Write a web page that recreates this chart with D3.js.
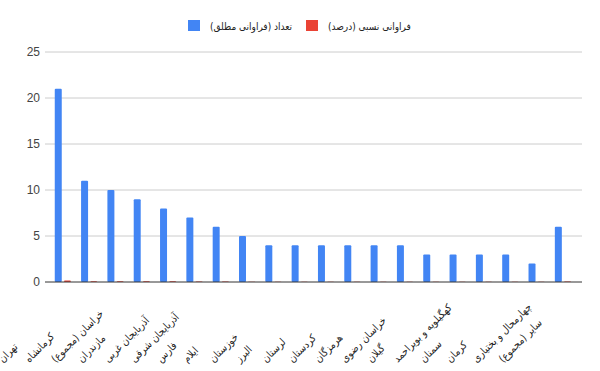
<!DOCTYPE html>
<html>
  <head>
    <meta charset="utf-8" />
    <script src="https://d3js.org/d3.v7.min.js"></script>
    <style>
      body { margin: 0; background: #fff; }
      text { font-family: Arial, "Liberation Sans", sans-serif; }
      text.fa { font-family: "DejaVu Sans Condensed", "DejaVu Sans", sans-serif; }
    </style>
  </head>
  <body>
    <div id="chart"></div>
    <script>
      // data
      const provinces = [
        "تهران", "کرمانشاه", "خراسان (مجموع)", "مازندران", "آذربایجان غربی",
        "آذربایجان شرقی", "فارس", "ایلام", "خوزستان", "البرز",
        "لرستان", "کردستان", "هرمزگان", "خراسان رضوی", "گیلان",
        "کهگیلویه و بویراحمد", "سمنان", "کرمان", "چهارمحال و بختیاری", "سایر (مجموع)"
      ];
      const countValues = [21, 11, 10, 9, 8, 7, 6, 5, 4, 4, 4, 4, 4, 4, 3, 3, 3, 3, 2, 6];
      const shareValues = [0.17, 0.09, 0.08, 0.07, 0.07, 0.06, 0.05, 0.04, 0.03, 0.03,
                           0.03, 0.03, 0.03, 0.03, 0.02, 0.02, 0.02, 0.02, 0.02, 0.05];
      const seriesNames = ["تعداد (فراوانی مطلق)", "فراوانی نسبی (درصد)"];
      const seriesColors = ["#4285f4", "#ea4335"];
      const yTicks = [0, 5, 10, 15, 20, 25];

      const width = 600, height = 371;
      const svg = d3.select("#chart").append("svg")
        .attr("width", width).attr("height", height);

      const y = d3.scaleLinear().domain([0, 25]).range([282, 52]);
      const x = d3.scaleBand().domain(provinces).range([49.7, 576.1]);
      const xs = d3.scaleBand().domain(seriesNames)
        .range([x.bandwidth() / 2 - 8.1, x.bandwidth() / 2 + 8.1])
        .paddingInner(0.24);

      // grid lines
      svg.append("g").selectAll("line")
        .data(yTicks.slice(1))
        .join("line")
        .attr("x1", 45).attr("x2", 582)
        .attr("y1", d => y(d)).attr("y2", d => y(d))
        .attr("stroke", "#cccccc");

      // y labels
      svg.append("g").selectAll("text")
        .data(yTicks)
        .join("text")
        .attr("x", 40).attr("y", d => y(d))
        .attr("dy", "0.35em")
        .attr("text-anchor", "end")
        .attr("font-size", 12)
        .attr("fill", "#444")
        .text(d => d);

      // bars
      const rows = provinces.map((p, i) => ({ p, vals: [countValues[i], shareValues[i]] }));
      const groups = svg.append("g").selectAll("g")
        .data(rows)
        .join("g")
        .attr("transform", d => `translate(${x(d.p)},0)`);
      groups.selectAll("rect")
        .data(d => d.vals.map((v, k) => ({ v, k })))
        .join("rect")
        .attr("x", d => xs(seriesNames[d.k]))
        .attr("width", xs.bandwidth())
        .attr("y", d => y(d.v))
        .attr("height", d => y(0) - y(d.v))
        .attr("rx", 1)
        .attr("fill", d => seriesColors[d.k]);

      // baseline
      svg.append("line")
        .attr("x1", 45).attr("x2", 582)
        .attr("y1", y(0)).attr("y2", y(0))
        .attr("stroke", "#333");

      // slanted category labels
      svg.append("g").selectAll("text")
        .data(provinces)
        .join("text")
        .attr("class", "fa")
        .attr("transform", d => {
          const cx = x(d) + x.bandwidth() / 2 - 60;
          return `translate(${cx},${y(0) + 81}) rotate(-45)`;
        })
        .attr("text-anchor", "start")
        .attr("font-size", 10.5)
        .attr("fill", "#222")
        .text(d => d);

      // legend
      const legendX = [188, 306];
      const legend = svg.append("g").selectAll("g")
        .data(seriesNames)
        .join("g")
        .attr("transform", (d, i) => `translate(${legendX[i]},20)`);
      legend.append("rect")
        .attr("width", 12).attr("height", 11)
        .attr("fill", (d, i) => seriesColors[i]);
      legend.append("text")
        .attr("class", "fa")
        .attr("x", 22).attr("y", 6)
        .attr("dy", "0.35em")
        .attr("font-size", 10)
        .attr("fill", "#222")
        .text(d => d);
    </script>
  </body>
</html>
